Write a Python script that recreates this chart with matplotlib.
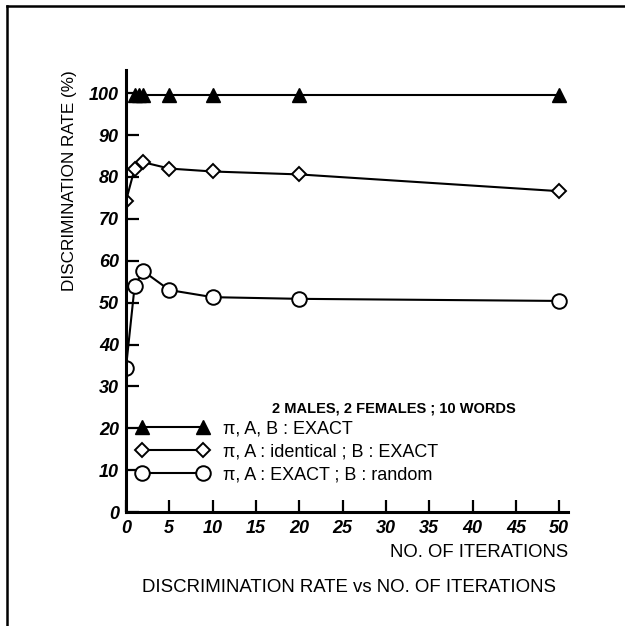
import numpy as np
import matplotlib.pyplot as plt
from matplotlib.lines import Line2D

# values
iters_exact = [1, 1.5, 2, 5, 10, 20, 50]
rate_exact = [99.5, 99.5, 99.5, 99.5, 99.5, 99.5, 99.5]

iters_ident = [0, 1, 2, 5, 10, 20, 50]
rate_ident = [74.3, 82.0, 83.5, 82.0, 81.3, 80.6, 76.6]

iters_random = [0, 1, 2, 5, 10, 20, 50]
rate_random = [34.5, 54.0, 57.5, 53.0, 51.3, 50.9, 50.4]

labels = ["π, A, B : EXACT",
          "π, A : identical ; B : EXACT",
          "π, A : EXACT ; B : random"]

x_ticks = list(range(0, 55, 5))
y_ticks = list(range(0, 110, 10))

plt.rcParams['font.family'] = ['Liberation Sans', 'DejaVu Sans']

fig = plt.figure(figsize=(6.25, 6.26), dpi=100)
ax = fig.add_axes([0.2016, 0.182, 0.707, 0.706])

# page frame (only top and left edges are inside the scan)
fig.add_artist(Line2D([0.011, 1.0], [0.990, 0.990], color='black', lw=1.8,
                      transform=fig.transFigure))
fig.add_artist(Line2D([0.011, 0.011], [0.0, 0.990], color='black', lw=1.8,
                      transform=fig.transFigure))

ax.plot(iters_exact, rate_exact, color='black', lw=1.5, marker='^',
        markersize=10, markerfacecolor='black', label=labels[0])
ax.plot(iters_ident, rate_ident, color='black', lw=1.5, marker='D',
        markersize=7.5, markerfacecolor='white', markeredgewidth=1.4,
        label=labels[1])
ax.plot(iters_random, rate_random, color='black', lw=1.5, marker='o',
        markersize=10.5, markerfacecolor='white', markeredgewidth=1.4,
        label=labels[2])

ax.set_xlim(0, 51)
ax.set_ylim(0, 105.5)
ax.set_xticks(x_ticks)
ax.set_yticks(y_ticks)

for s in ['top', 'right']:
    ax.spines[s].set_visible(False)
for s in ['left', 'bottom']:
    ax.spines[s].set_linewidth(2.2)

ax.tick_params(axis='both', direction='in', length=9, width=1.6)
ax.tick_params(axis='x', pad=6)
ax.tick_params(axis='y', pad=5)
for lab in ax.get_xticklabels() + ax.get_yticklabels():
    lab.set_fontweight('bold')
    lab.set_fontstyle('italic')
    lab.set_fontsize(13)

ax.set_ylabel("DISCRIMINATION RATE (%)", fontsize=12.3)
ax.yaxis.set_label_coords(-0.112, 0.75)
ax.text(1.0, -0.092, "NO. OF ITERATIONS", transform=ax.transAxes,
        ha='right', va='center', fontsize=13.3)
fig.text(0.558, 0.062, "DISCRIMINATION RATE vs NO. OF ITERATIONS",
         ha='center', va='center', fontsize=13.4)

ax.text(16.9, 24.8, "2 MALES, 2 FEMALES ; 10 WORDS", fontsize=10.5,
        fontweight='bold', ha='left', va='center')

leg = ax.legend(loc='upper left', bbox_to_anchor=(0.024, 0.208), frameon=False,
                numpoints=2, handlelength=4.0, handletextpad=0.8,
                labelspacing=0.34, fontsize=13, borderpad=0,
                borderaxespad=0)

fig.savefig("out.png", dpi=100)
